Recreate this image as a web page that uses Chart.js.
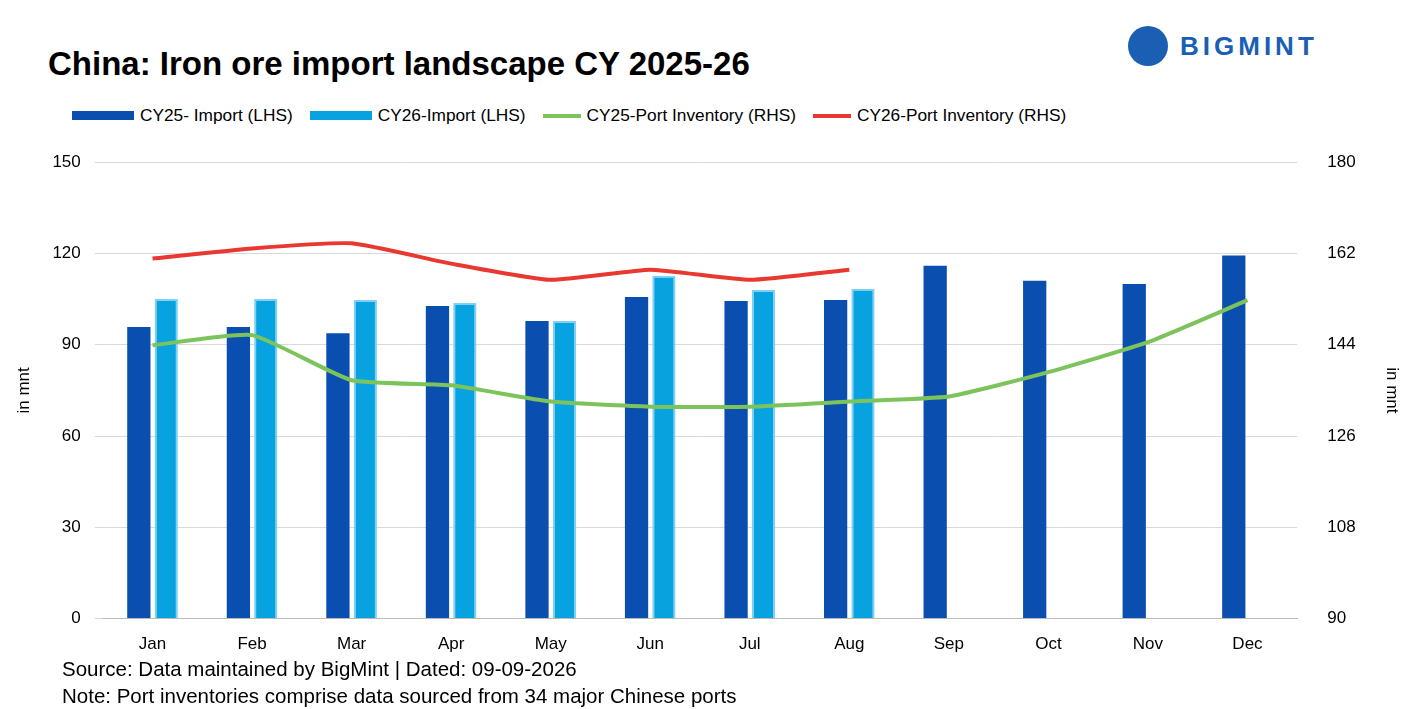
<!DOCTYPE html>
<html><head><meta charset="utf-8">
<script src="https://cdn.jsdelivr.net/npm/chart.js@4"></script>
<style>
body{margin:0;width:1410px;height:709px;background:#fff;font-family:"Liberation Sans",Arial,sans-serif;position:relative;overflow:hidden}
#title{position:absolute;left:48px;top:45px;font-size:33px;font-weight:bold;color:#000}
#logo{position:absolute;left:1128px;top:26px;display:flex;align-items:center}
#logo .ic{width:40px;height:40px;border-radius:50%;background:#1a5fb4;position:relative}
#logo .tx{font-size:26px;font-weight:bold;color:#1a5fb4;letter-spacing:4px;margin-left:12px}
#leg{position:absolute;left:72px;top:105px;display:flex;font-size:17.3px;align-items:center}
#leg span.b{display:inline-block;width:62px;height:9px;margin-right:6px}
#leg span.l{display:inline-block;width:38px;height:4px;margin-right:6px}
#leg div{display:flex;align-items:center;margin-right:17px}
#wrap{position:absolute;left:0;top:130px;width:1410px;height:533px}
#src{position:absolute;left:62px;top:655px;font-size:20.5px;color:#000;line-height:27px}
</style></head><body>
<div id="title">China: Iron ore import landscape CY 2025-26</div>
<div id="logo"><div class="ic"></div><div class="tx">BIGMINT</div></div>
<div id="leg"></div>
<div id="wrap"><canvas id="c"></canvas></div>
<div id="src">Source: Data maintained by BigMint | Dated: 09-09-2026<br>Note: Port inventories comprise data sourced from 34 major Chinese ports</div>
<script>
const months=["Jan","Feb","Mar","Apr","May","Jun","Jul","Aug","Sep","Oct","Nov","Dec"];
const imp25=[95.8,95.8,93.8,102.7,97.8,105.7,104.4,104.7,116,111,110,119.3];
const imp26=[105,105,104.7,103.7,97.8,112.7,108,108.4,null,null,null,null];
const inv25=[143.9,145.9,137,136,132.8,131.8,131.8,132.8,133.8,138.6,144.5,152.8];
const inv26=[161,163,164,160,156.8,158.8,156.8,158.8,null,null,null,null];
Chart.defaults.font.family='"Liberation Sans",Arial,sans-serif';
Chart.defaults.font.size=17;Chart.defaults.color='#000';
const ch=new Chart(document.getElementById('c'),{
data:{labels:months,datasets:[
{type:'line',label:'CY25-Port Inventory (RHS)',data:inv25,yAxisID:'y1',borderColor:'#7dc35b',backgroundColor:'#7dc35b',borderWidth:4,pointRadius:0,tension:0.15,order:1},
{type:'line',label:'CY26-Port Inventory (RHS)',data:inv26,yAxisID:'y1',borderColor:'#e8382f',backgroundColor:'#e8382f',borderWidth:4,pointRadius:0,tension:0.15,order:0},
{type:'bar',label:'CY25- Import (LHS)',data:imp25,yAxisID:'y',backgroundColor:'#0a4fb0',barPercentage:0.85,categoryPercentage:0.55,order:2},
{type:'bar',label:'CY26-Import (LHS)',data:imp26,yAxisID:'y',backgroundColor:'#06a3e0',borderColor:'#7fd0f2',borderWidth:2,barPercentage:0.85,categoryPercentage:0.55,order:3}
]},
options:{responsive:true,maintainAspectRatio:false,animation:false,
layout:{padding:{left:10,right:4,top:0,bottom:0}},
plugins:{legend:{display:false},tooltip:{enabled:false}},
scales:{
x:{grid:{display:false},border:{color:'#bbb'},ticks:{padding:8}},
y:{position:'left',min:0,max:150,ticks:{stepSize:30,padding:14},grid:{color:'#d9d9d9'},border:{display:false},title:{display:true,text:'in mnt',font:{size:17}}},
y1:{position:'right',min:90,max:180,ticks:{stepSize:18,padding:22},grid:{display:false},border:{display:false},title:{display:true,text:'in mnt',font:{size:17}}}
}}});
const leg=document.getElementById('leg');
[2,3,0,1].forEach(i=>{const d=ch.data.datasets[i];const e=document.createElement('div');
const s=document.createElement('span');s.className=d.type==='bar'?'b':'l';s.style.background=d.type==='bar'?d.backgroundColor:d.borderColor;
e.appendChild(s);e.appendChild(document.createTextNode(d.label));leg.appendChild(e);});
</script>
</body></html>
